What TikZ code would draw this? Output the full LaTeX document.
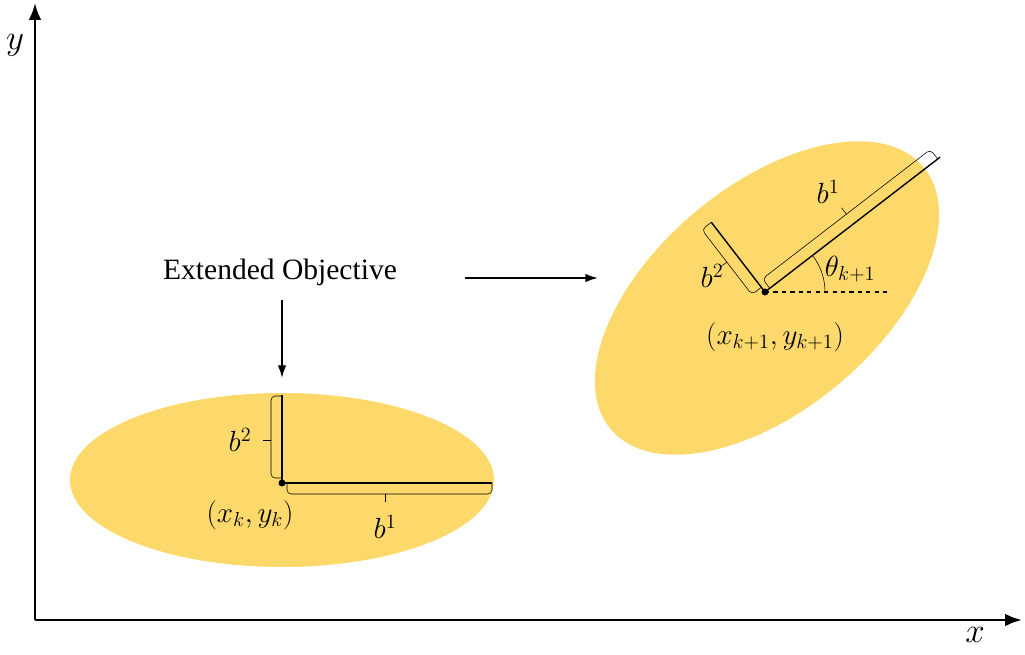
\documentclass[tikz,border=0pt]{standalone}
\usepackage{tikz}
\usepackage{fontspec}
\setmainfont{Liberation Serif}
\usetikzlibrary{arrows,positioning}
\definecolor{gold}{HTML}{FDD86A}
\tikzset{
  axis/.style={-{Latex[length=12pt,width=9pt]},line width=1.8pt},
  hint/.style={-{Latex[length=9pt,width=6pt]},line width=1.2pt},
  brace/.style={line width=0.4pt,rounded corners=3pt},
  lbl/.style={font=\fontsize{22}{26}\selectfont},
}
\usetikzlibrary{arrows.meta}
\begin{document}
\begin{tikzpicture}[x=0.025cm,y=-0.025cm]
    \useasboundingbox (0,0) rectangle (1025,655);
    % axes
    \coordinate (o) at (35,620);
    \coordinate (ytop) at (35,3);
    \coordinate (xend) at (1022,620);
    \draw[axis] (o) -- (ytop);
    \draw[axis] (o) -- (xend);
    \node[lbl,font=\fontsize{28}{32}\selectfont] (ylab) at (15,45) {$y$};
    \node[lbl,font=\fontsize{28}{32}\selectfont] (xlab) at (975,635) {$x$};

    % first objective
    \fill[gold] (282,480) ellipse [x radius=212,y radius=87];
    \coordinate (c1) at (282,483);
    \coordinate (v1) at (282,395);
    \coordinate (h1) at (492,483);
    \draw[line width=1pt] (v1) -- (c1) -- (h1);
    \fill (c1) circle (3.5);
    \draw[brace] (282,396) -- (271,396) -- (271,478) -- (282,478);
    \draw (271,440) -- (263,440);
    \draw[brace] (287,483) -- (287,494) -- (492,494) -- (492,483);
    \draw (385,494) -- (385,502);
    \node[lbl] (b21) at (240,440) {$b^2$};
    \node[lbl] (b11) at (385,527) {$b^1$};
    \node[lbl] (p1) at (250,515) {$\left(x_k,y_k\right)$};

    % second objective
    \fill[gold,rotate around={40:(767,298)}] (767,298) ellipse [x radius=204,y radius=112];
    \coordinate (c2) at (765,292);
    \draw[dashed,line width=1pt] (c2) -- (890,292);
    \begin{scope}[shift={(765,292)},rotate=37.6]
        \coordinate (m2) at (221,0);
        \coordinate (n2) at (0,-88);
        \draw[line width=1pt] (m2) -- (0,0) -- (n2);
        \draw[brace] (6,0) -- (6,-12) -- (218,-12) -- (218,0);
        \draw (112,-12) -- (112,-20);
        \draw[brace] (0,-6) -- (-12,-6) -- (-12,-88) -- (0,-88);
        \draw (-12,-47) -- (-20,-47);
    \end{scope}
    \fill (c2) circle (3.5);
    \draw (825,292) arc (0:-37.6:60);
    \node[lbl] (th) at (850,269) {$\theta_{k+1}$};
    \node[lbl] (b12) at (828,192) {$b^1$};
    \node[lbl] (b22) at (712,276) {$b^2$};
    \node[lbl] (p2) at (775,337) {$\left(x_{k+1},y_{k+1}\right)$};

    % annotation
    \node[font=\fontsize{21}{25}\selectfont] (ext) at (280,272) {Extended Objective};
    \coordinate (a1) at (282,378);
    \coordinate (s2) at (465,278);
    \coordinate (a2) at (598,278);
    \draw[hint] (282,300) -- (a1);
    \draw[hint] (s2) -- (a2);
\end{tikzpicture}
\end{document}
